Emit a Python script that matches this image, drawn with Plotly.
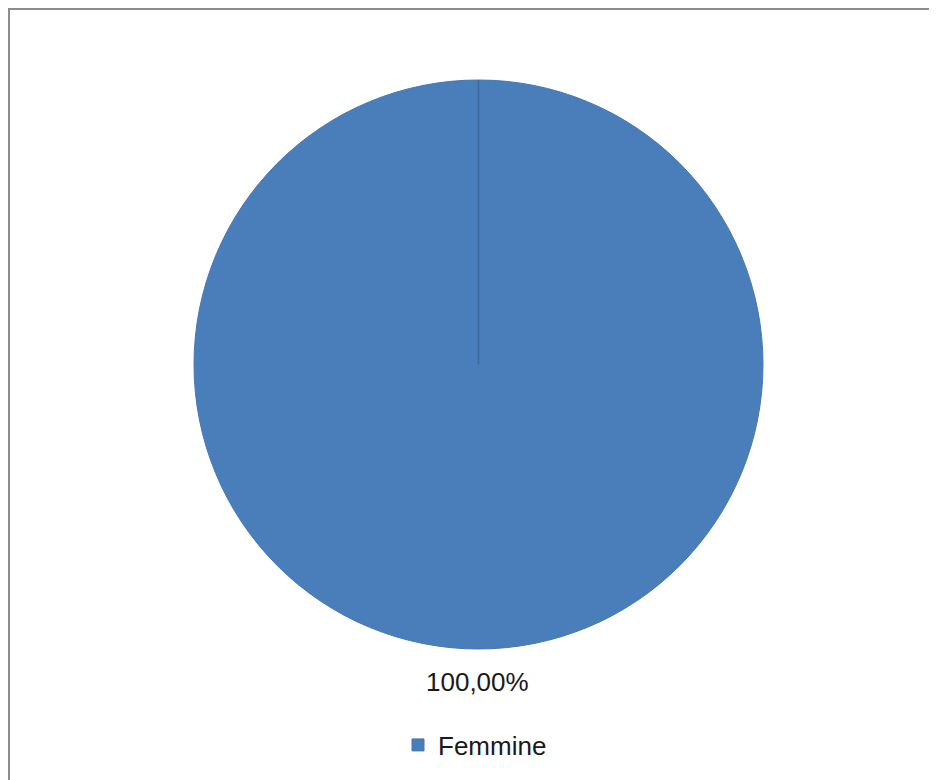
import plotly.graph_objects as go

labels = ["Femmine"]
values = [100]
colors = ["#4a7ebb"]

W, H = 937, 780
FONT = "Liberation Sans, Arial, sans-serif"
# pie geometry (pixels, figure coordinates)
cx, cy, r = 470.5, 356.5, 284.5
dx0, dx1 = (cx - r) / W, (cx + r) / W
dy0, dy1 = 1 - (cy + r) / H, 1 - (cy - r) / H

fig = go.Figure(go.Pie(
    labels=labels,
    values=values,
    marker=dict(colors=colors, line=dict(color="#4677b2", width=1)),
    sort=False,
    direction="clockwise",
    rotation=0,
    textinfo="none",
    domain=dict(x=[dx0, dx1], y=[dy0, dy1]),
    showlegend=True,
    hoverinfo="label+percent",
))

# percentage label below the pie
total = sum(values)
for lab, v in zip(labels, values):
    pct = f"{100 * v / total:.2f}".replace(".", ",") + "%"
    fig.add_annotation(text=pct, xref="paper", yref="paper",
                       x=469.5 / W, y=1 - 673.5 / H, xanchor="center", yanchor="middle",
                       showarrow=False, font=dict(family=FONT, size=26, color="#1a1a1a"))

# slice edge from centre to 12 o'clock
fig.add_shape(type="line", xref="paper", yref="paper",
              x0=cx / W, x1=cx / W, y0=1 - cy / H, y1=dy1,
              line=dict(color="#3d6a9e", width=1.5))
# chart-area border
fig.add_shape(type="rect", xref="paper", yref="paper",
              x0=1 / W, x1=1.02, y0=-0.02, y1=1 - 1 / H,
              line=dict(color="#8c8c8c", width=2))

fig.update_layout(
    width=W, height=H,
    margin=dict(l=0, r=0, t=0, b=0),
    paper_bgcolor="white",
    plot_bgcolor="white",
    font=dict(family=FONT, size=26, color="#1a1a1a"),
    legend=dict(orientation="h", x=467 / W, xanchor="center", y=1 - 737 / H, yanchor="middle",
                font=dict(family=FONT, size=26, color="#1a1a1a"), itemclick=False,
                itemwidth=30, tracegroupgap=0),
)

fig.write_html("out.html")
